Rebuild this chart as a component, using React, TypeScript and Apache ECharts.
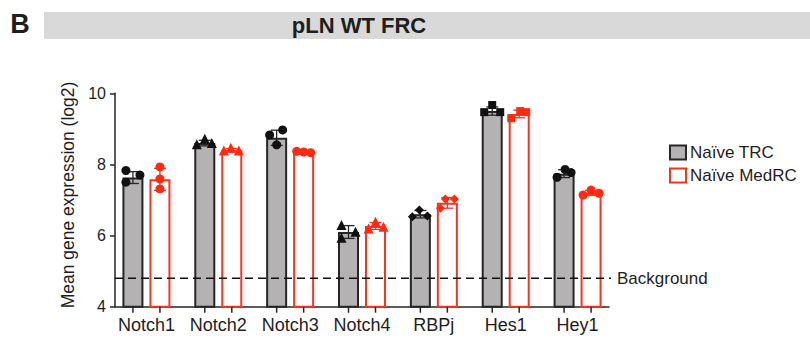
import { useEffect, useRef } from 'react';
import * as echarts from 'echarts';

// Notch pathway genes measured in naïve pLN FRC subsets
const genes = ['Notch1', 'Notch2', 'Notch3', 'Notch4', 'RBPj', 'Hes1', 'Hey1'];

// Group means (log2)
const trcMean = [7.63, 8.6, 8.75, 6.1, 6.6, 9.5, 7.74];
const medrcMean = [7.58, 8.4, 8.35, 6.27, 6.92, 9.42, 7.2];

// Individual replicates (log2)
const trcReplicates = [
  [7.83, 7.7, 7.5],
  [8.57, 8.72, 8.6],
  [8.83, 8.97, 8.55],
  [6.3, 5.94, 6.11],
  [6.53, 6.72, 6.55],
  [9.47, 9.67, 9.47],
  [7.64, 7.86, 7.77],
];
const medrcReplicates = [
  [7.93, 7.59, 7.31],
  [8.39, 8.47, 8.39],
  [8.37, 8.35, 8.33],
  [6.2, 6.39, 6.25],
  [6.77, 7.03, 7.03],
  [9.3, 9.5, 9.47],
  [7.14, 7.28, 7.19],
];

// Horizontal scatter of replicate dots around each bar centre (px)
const trcJitter = [[-7, 7, -7], [-8, 0, 7], [-7, 6, 0], [-7, -7, 7], [-8, -1, 7], [-8, 0, 8], [-7, 1, 7]];
const medrcJitter = [[0, 0, 0], [-8, -1, 7], [-7, 0, 7], [-7, 0, 8], [-7, -2, 7], [-8, 1, 7], [-8, 0, 8]];

const geneSymbols = ['circle', 'triangle', 'circle', 'triangle', 'diamond', 'rect', 'circle'];

const yMin = 4;
const yMax = 10;
const yStep = 2;
const backgroundLevel = 4.8;

const seriesNames = ['Naïve TRC', 'Naïve MedRC'];

const FONT = 'Liberation Sans, Arial, Helvetica, sans-serif';
const TEXT = '#1e1e1e';
const DARK = '#262626';
const GREY_FILL = '#b4b2b3';
const RED = '#f3361d';

const BAR_W = 21;
const BAR_GAP_PX = 6;
const HALF_STEP = (BAR_W + BAR_GAP_PX) / 2;

const PLOT_TOP = 93.3;
const PLOT_H = 213.4;

function sd(values: number[]): number {
  const m = values.reduce((a, b) => a + b, 0) / values.length;
  const v = values.reduce((a, b) => a + (b - m) * (b - m), 0) / (values.length - 1);
  return Math.sqrt(v);
}

function errorBars(name: string, means: number[], reps: number[][], side: number, color: string) {
  return {
    name,
    type: 'custom',
    xAxisIndex: 0,
    yAxisIndex: 0,
    z: 4,
    silent: true,
    data: means.map((m, i) => [i, m, sd(reps[i])]),
    renderItem: (_params: any, api: any) => {
      const i = api.value(0);
      const m = api.value(1);
      const s = api.value(2);
      const top = api.coord([i, m + s]);
      const bot = api.coord([i, m - s]);
      const base = api.coord([i, yMin]);
      const x = top[0] + side * HALF_STEP;
      const cap = 6;
      const st = { stroke: color, lineWidth: 1.3 };
      return {
        type: 'group',
        children: [
          { type: 'line', shape: { x1: x, y1: top[1], x2: x, y2: bot[1] }, style: st },
          { type: 'line', shape: { x1: x - cap, y1: top[1], x2: x + cap, y2: top[1] }, style: st },
          { type: 'line', shape: { x1: x - cap, y1: bot[1], x2: x + cap, y2: bot[1] }, style: st },
          // x-axis tick beneath each bar
          {
            type: 'line',
            shape: { x1: x, y1: base[1], x2: x, y2: base[1] + 6 },
            style: { stroke: DARK, lineWidth: 1.5 },
          },
        ],
      };
    },
  };
}

function replicateDots(name: string, reps: number[][], jitter: number[][], side: number, color: string) {
  return {
    name,
    type: 'scatter',
    xAxisIndex: 0,
    yAxisIndex: 0,
    z: 5,
    silent: true,
    itemStyle: { color, opacity: 1 },
    data: reps.flatMap((r, i) =>
      r.map((v, k) => ({
        value: [i, v],
        symbol: geneSymbols[i],
        symbolSize: geneSymbols[i] === 'rect' ? 8 : geneSymbols[i] === 'triangle' ? 10 : 9,
        symbolOffset: [side * HALF_STEP + jitter[i][k], 0],
      }))
    ),
  };
}

export default function App() {
  const ref = useRef<HTMLDivElement>(null);

  useEffect(() => {
    if (!ref.current) return;
    const chart = echarts.init(ref.current, undefined, { renderer: 'svg' });

    chart.setOption({
      animation: false,
      backgroundColor: '#ffffff',
      textStyle: { fontFamily: FONT },
      graphic: [
        {
          type: 'rect',
          shape: { x: 44, y: 12, width: 766, height: 27 },
          style: { fill: '#d9d9d9' },
          silent: true,
        },
        {
          type: 'text',
          x: 359,
          y: 25.5,
          style: {
            text: 'pLN WT FRC',
            font: `bold 22px ${FONT}`,
            fill: TEXT,
            textAlign: 'center',
            textVerticalAlign: 'middle',
          },
        },
        {
          type: 'text',
          x: 20,
          y: 24,
          style: {
            text: 'B',
            font: `bold 27px ${FONT}`,
            fill: TEXT,
            textAlign: 'center',
            textVerticalAlign: 'middle',
          },
        },
      ],
      legend: {
        data: seriesNames,
        orient: 'vertical',
        left: 664,
        top: 139,
        itemWidth: 16,
        itemHeight: 14,
        itemGap: 6,
        icon: 'rect',
        selectedMode: false,
        textStyle: { fontSize: 17, color: TEXT, fontFamily: FONT, padding: [0, 0, 0, -1] },
      },
      grid: [
        { left: 110.5, top: PLOT_TOP, width: 503, height: PLOT_H },
        { left: 115, top: PLOT_TOP, width: 494, height: PLOT_H },
      ],
      xAxis: [
        {
          type: 'category',
          gridIndex: 0,
          data: genes,
          boundaryGap: true,
          axisLine: { show: false },
          axisTick: { show: false },
          axisLabel: { interval: 0, fontSize: 18, color: TEXT, margin: 9, fontFamily: FONT },
        },
        {
          type: 'value',
          gridIndex: 1,
          min: 0,
          max: 1,
          axisLine: { show: true, lineStyle: { color: DARK, width: 1.5 } },
          axisTick: { show: false },
          axisLabel: { show: false },
          splitLine: { show: false },
        },
      ],
      yAxis: [
        {
          type: 'value',
          gridIndex: 0,
          min: yMin,
          max: yMax,
          show: false,
        },
        {
          type: 'value',
          gridIndex: 1,
          min: yMin,
          max: yMax,
          interval: yStep,
          name: 'Mean gene expression (log2)',
          nameLocation: 'middle',
          nameGap: 19,
          nameTextStyle: { fontSize: 17.5, color: TEXT, fontFamily: FONT, padding: [0, 0, 0, 10] },
          axisLine: { show: true, lineStyle: { color: DARK, width: 1.5 } },
          axisTick: { show: true, length: 5, lineStyle: { color: DARK, width: 1.5 } },
          axisLabel: { fontSize: 16, color: TEXT, margin: 9, fontFamily: FONT },
          splitLine: { show: false },
        },
      ],
      series: [
        {
          name: seriesNames[0],
          type: 'bar',
          xAxisIndex: 0,
          yAxisIndex: 0,
          data: trcMean,
          barWidth: BAR_W,
          barGap: `${(BAR_GAP_PX / BAR_W) * 100}%`,
          z: 2,
          itemStyle: { color: GREY_FILL, borderColor: DARK, borderWidth: 2 },
        },
        {
          name: seriesNames[1],
          type: 'bar',
          xAxisIndex: 0,
          yAxisIndex: 0,
          data: medrcMean,
          barWidth: BAR_W,
          z: 2,
          itemStyle: { color: '#ffffff', borderColor: RED, borderWidth: 2 },
        },
        errorBars('TRC error', trcMean, trcReplicates, -1, DARK),
        errorBars('MedRC error', medrcMean, medrcReplicates, 1, RED),
        replicateDots('TRC replicates', trcReplicates, trcJitter, -1, '#111111'),
        replicateDots('MedRC replicates', medrcReplicates, medrcJitter, 1, '#ff2a10'),
        {
          // dashed detection threshold across the plot
          name: 'Background level',
          type: 'line',
          xAxisIndex: 1,
          yAxisIndex: 1,
          data: [
            [0, backgroundLevel],
            [1.006, backgroundLevel],
          ],
          clip: false,
          showSymbol: false,
          symbol: 'none',
          silent: true,
          z: 3,
          lineStyle: { type: [8, 5], color: '#111111', width: 1.5 },
          endLabel: {
            show: true,
            formatter: 'Background',
            distance: 6,
            fontSize: 17,
            color: TEXT,
            fontFamily: FONT,
          },
        },
      ],
    });

    return () => chart.dispose();
  }, []);

  return (
    <div
      ref={ref}
      style={{ position: 'fixed', left: 0, top: 0, width: 810, height: 341, background: '#fff' }}
    />
  );
}
